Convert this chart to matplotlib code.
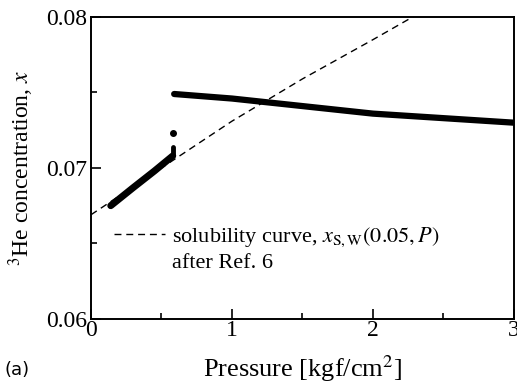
import numpy as np
import matplotlib.pyplot as plt
from matplotlib.lines import Line2D

# data
p_low = [0.14, 0.30, 0.45, 0.58]
x_low = [0.0675, 0.0687, 0.0698, 0.0708]
p_spike = [0.58, 0.58, 0.58, 0.58]
x_spike = [0.0709, 0.0711, 0.0714, 0.0723]
p_high = [0.59, 1.0, 1.5, 2.0, 2.5, 3.0]
x_high = [0.0749, 0.0746, 0.0741, 0.0736, 0.0733, 0.0730]

# solubility curve after Ref. 6
p_sol = [0.0, 0.5, 1.0, 1.5, 2.0, 2.3]
x_sol = [0.0669, 0.0700, 0.0731, 0.0759, 0.0785, 0.0801]

plt.rcParams["font.family"] = "Liberation Serif"
plt.rcParams["mathtext.fontset"] = "stix"

fig = plt.figure(figsize=(5.17, 3.87), dpi=100)
ax = fig.add_axes([0.176, 0.176, 0.818, 0.780])

ax.plot(p_sol, x_sol, "k--", lw=1.0, dashes=(5, 3.5))
ax.plot(p_low, x_low, "k-", lw=5, solid_capstyle="round")
ax.plot(p_high, x_high, "k-", lw=4.5, solid_capstyle="round")
ax.plot(p_spike[:3], x_spike[:3], "k-", lw=3.5, solid_capstyle="round")
ax.plot(p_spike[3:], x_spike[3:], "ko", ms=4)

ax.set_xlim(0, 3)
ax.set_ylim(0.06, 0.08)
ax.set_xticks([0, 1, 2, 3])
ax.set_xticks([0.5, 1.5, 2.5], minor=True)
ax.set_yticks([0.06, 0.07, 0.08])
ax.set_yticks([0.065, 0.075], minor=True)
ax.set_yticklabels(["0.06", "0.07", "0.08"])
ax.tick_params(which="both", direction="in", labelsize=17, width=1.2)
ax.tick_params(which="major", length=7)
ax.tick_params(which="minor", length=4)
ax.tick_params(axis="x", pad=1)
ax.tick_params(axis="y", pad=3)
for s in ax.spines.values():
    s.set_linewidth(1.4)

ax.set_xlabel(r"Pressure [kgf/cm$^2$]", fontsize=19, labelpad=9)
ax.set_ylabel(r"$^3$He concentration, $x$", fontsize=17, labelpad=7)

handles = [
    Line2D([], [], color="k", ls="--", lw=1.0, dashes=(5, 3.5)),
    Line2D([], [], color="none"),
]
labels = [r"solubility curve, $x_{\mathrm{S,W}}(0.05,P)$", "after Ref. 6"]
ax.legend(handles, labels, loc="upper left", bbox_to_anchor=(0.027, 0.345),
          frameon=False, fontsize=16, handlelength=2.3, handletextpad=0.35,
          labelspacing=0.15, borderpad=0)

fig.text(0.008, 0.03, "(a)", fontsize=13, family="DejaVu Sans")

fig.savefig("out.png", dpi=100)
